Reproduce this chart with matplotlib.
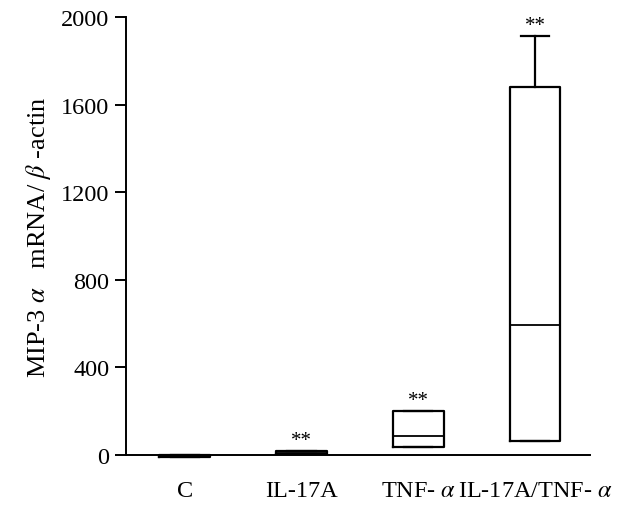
import matplotlib.pyplot as plt

plt.rcParams['font.family'] = ['Liberation Serif', 'DejaVu Serif']
plt.rcParams['mathtext.fontset'] = 'stix'

# data
groups = ['C', 'IL-17A', r'TNF- $\alpha$', r'IL-17A/TNF- $\alpha$']
q1 = [-8, 3, 36, 64]
med = [-5, 10, 87, 594]
q3 = [-2, 17, 201, 1680]
whis_hi = [-2, 17, 201, 1913]
stars = ['', '**', '**', '**']

fig = plt.figure(figsize=(6.34, 5.06), dpi=100)
ax = fig.add_axes([0.199, 0.0988, 0.732, 0.8656])

stats = []
for i in range(len(groups)):
    stats.append({'whislo': q1[i], 'q1': q1[i], 'med': med[i],
                  'q3': q3[i], 'whishi': whis_hi[i], 'fliers': []})

lw = 1.6
parts = ax.bxp(stats, positions=[1, 2, 3, 4], widths=0.43, capwidths=0.24,
               showfliers=False,
               boxprops=dict(color='black', linewidth=lw),
               medianprops=dict(color='black', linewidth=1.3),
               whiskerprops=dict(color='black', linewidth=lw),
               capprops=dict(color='black', linewidth=lw))
for key in parts:
    for art in parts[key]:
        art.set_clip_on(False)

# significance marks
for i, s in enumerate(stars):
    if s:
        ax.annotate(s, xy=(i + 1, whis_hi[i]), xytext=(0, 1),
                    textcoords='offset points', ha='center', va='bottom',
                    fontsize=15)

ax.set_xlim(0.5, 4.47)
ax.set_ylim(0, 2000)
ax.set_yticks([0, 400, 800, 1200, 1600, 2000])
ax.set_xticks([1, 2, 3, 4])
ax.set_xticklabels(groups, fontsize=17.5)
ax.tick_params(axis='x', length=0, pad=18)
ax.tick_params(axis='y', direction='out', length=8, width=1.4,
               labelsize=17.5, pad=4)

for side in ['top', 'right']:
    ax.spines[side].set_visible(False)
ax.spines['left'].set_linewidth(1.4)
ax.spines['bottom'].set_linewidth(1.4)
ax.spines['bottom'].set_bounds(0.5, 4.47)

ax.set_ylabel(r'MIP-3 $\alpha$   mRNA/ $\beta$ -actin', fontsize=19, labelpad=6)

fig.savefig('out.png', dpi=100)
